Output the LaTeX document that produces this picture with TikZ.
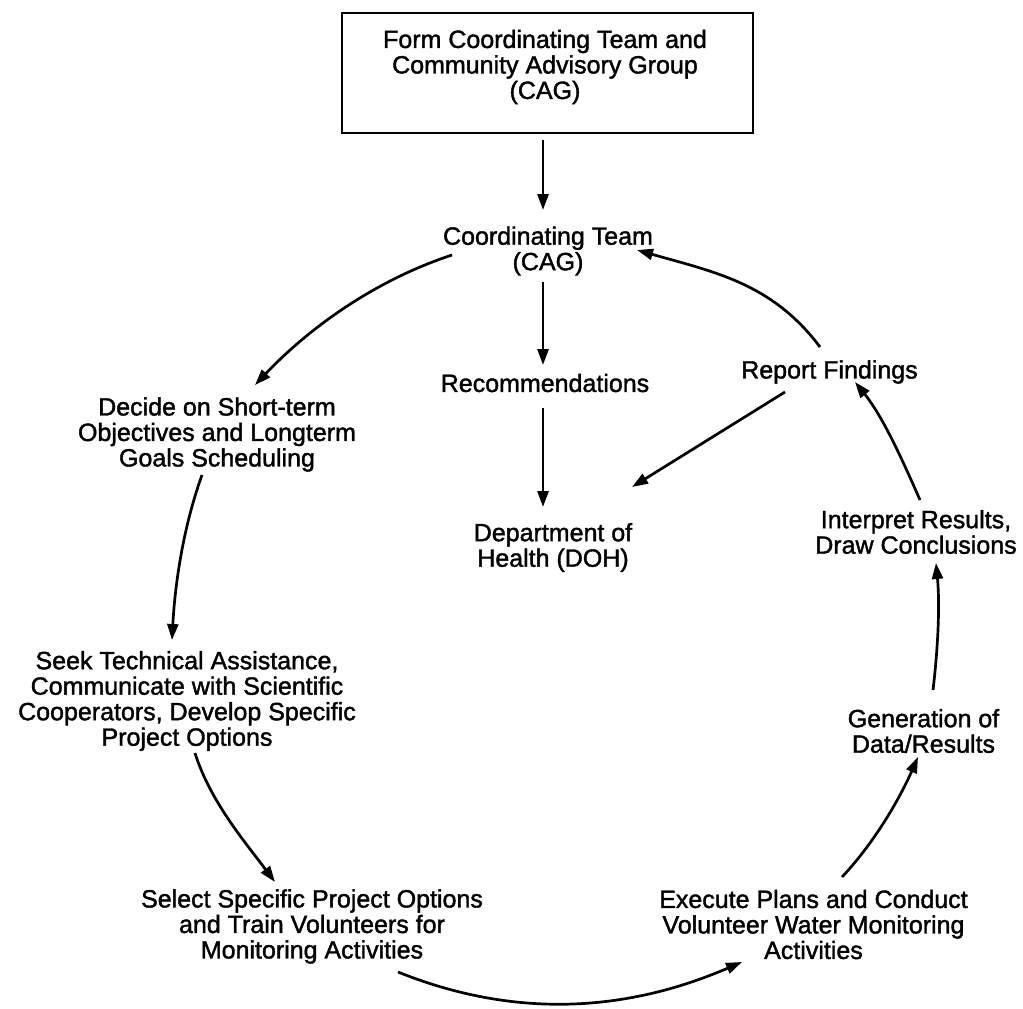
\documentclass[tikz,border=0pt]{standalone}
\usepackage{fontspec}
\setmainfont{Liberation Sans}
\newfontfamily\lblfam{Liberation Sans}[FakeBold=1.5]
\usetikzlibrary{arrows.meta}
\newcommand\lblfont{\lblfam\fontsize{25}{25.5}\selectfont\setlength{\lineskiplimit}{-100pt}}
\begin{document}
\begin{tikzpicture}[x=1pt,y=-1pt,
  lbl/.style={align=center, inner sep=0pt, font={\lblfont}},
  arr/.style={-{Triangle[length=16pt,width=11pt]}, line width=2.7pt},
  topbox/.style={draw, line width=2.9pt, minimum width=411pt, minimum height=120pt, inner sep=0pt}]
\useasboundingbox (0,0) rectangle (1023,1009);
\node[topbox] (formbox) at (547.5,73) {};
\node[lbl] (form) at (545,67) {Form Coordinating Team and\\Community Advisory Group\\(CAG)};
\node[lbl] (cag) at (548,251) {Coordinating Team\\(CAG)};
\node[lbl] (rec) at (545,383) {Recommendations};
\node[lbl] (doh) at (553,547.5) {Department of\\Health (DOH)};
\node[lbl] (rep) at (829.5,372) {Report Findings};
\node[lbl] (dec) at (217,434.5) {Decide on Short-term\\Objectives and Longterm\\Goals Scheduling};
\node[lbl] (seek) at (187,701) {Seek Technical Assistance,\\Communicate with Scientific\\Cooperators, Develop Specific\\Project Options};
\node[lbl] (sel) at (312,926.5) {Select Specific Project Options\\and Train Volunteers for\\Monitoring Activities};
\node[lbl] (exe) at (813.5,924.5) {Execute Plans and Conduct\\Volunteer Water Monitoring\\Activities};
\node[lbl] (gen) at (923.5,731) {Generation of\\Data/Results};
\node[lbl] (intp) at (916,532) {Interpret Results,\\Draw Conclusions};

\draw[arr] ([shift={(-4.5,67)}]formbox.center) -- ([shift={(-5,-41)}]cag.center);
\draw[arr] ([shift={(-5,31)}]cag.center) -- ([shift={(-2,-18)}]rec.center);
\draw[arr] ([shift={(-2,25)}]rec.center) -- ([shift={(-10,-40.5)}]doh.center);
\draw[arr] ([shift={(-96,4)}]cag.center) .. controls +(-76,25) and +(55,-58) .. ([shift={(38,-49.5)}]dec.center);
\draw[arr] ([shift={(-15,40.5)}]dec.center) .. controls +(-19,53) and +(3,-56) .. ([shift={(-15,-61)}]seek.center);
\draw[arr] ([shift={(8,52)}]seek.center) .. controls +(15,48) and +(-30,-40) .. ([shift={(-37,-44.5)}]sel.center);
\draw[arr] ([shift={(86,45.5)}]sel.center) .. controls +(117,47) and +(-116,50) .. ([shift={(-71.5,37.5)}]exe.center);
\draw[arr] ([shift={(28.5,-47.5)}]exe.center) .. controls +(32,-34) and +(-19,43) .. ([shift={(-5.5,26)}]gen.center);
\draw[arr] ([shift={(9.5,-41)}]gen.center) .. controls +(5,-42) and +(4,42) .. ([shift={(20,31)}]intp.center);
\draw[arr] ([shift={(4,-32)}]intp.center) .. controls +(-18,-41) and +(28,35) .. ([shift={(25.5,10)}]rep.center);
\draw[arr] ([shift={(-9.5,-25)}]rep.center) .. controls +(-48,-64) and +(77,22) .. ([shift={(89,-1)}]cag.center);
\draw[arr] ([shift={(-44.5,20)}]rep.center) -- ([shift={(79,-60.5)}]doh.center);
\end{tikzpicture}
\end{document}
